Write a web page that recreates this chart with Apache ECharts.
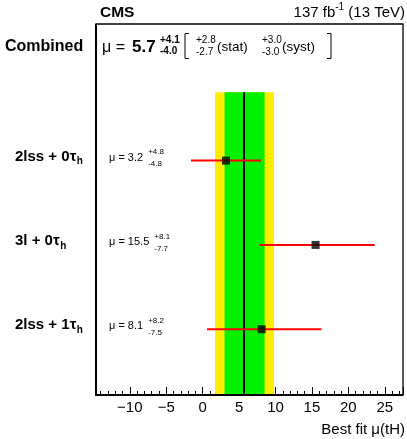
<!DOCTYPE html>
<html><head><meta charset="utf-8">
<script src="https://cdn.jsdelivr.net/npm/echarts@6/dist/echarts.min.js"></script>
<style>html,body{margin:0;padding:0;background:#fff}#c{width:407px;height:439px}</style>
</head><body><div id="c"></div>
<script>
// ---- data ----
const channels = ['2lss + 0τ', '3l + 0τ', '2lss + 1τ'];
const channelSub = ['h', 'h', 'h'];
const muBest = [3.2, 15.5, 8.1];
const errUp = [4.8, 8.1, 8.2];
const errDown = [4.8, 7.7, 7.5];
const combinedMu = 5.7;
const combinedUp = 4.1, combinedDown = 4.0;
const statUp = 2.8, statDown = 2.7;
const systUp = 3.0, systDown = 3.0;
const xTickValues = [-10, -5, 0, 5, 10, 15, 20, 25];

// ---- layout ----
const FONT = '"Liberation Sans", Arial, sans-serif';
const Y_MIN = -0.78, Y_MAX = 3.62, BAND_TOP = 2.81;
const X_MIN = -15, X_MAX = 27.5;
const FRAME = { x: 96, y: 24, w: 307, h: 371 };
const rowY = i => channels.length - 1 - i;

const cv = document.createElement('canvas').getContext('2d');
function tw(t, f) { cv.font = f; return cv.measureText(t).width; }
function fnt(size, bold) { return (bold ? 'bold ' : '') + size + 'px ' + FONT; }
const G = [];
function txt(x, y, text, size, bold, align) {
  G.push({ type: 'text', x: x, y: y, silent: true, z: 100,
    style: { text: text, font: fnt(size, bold), fill: '#000', align: align || 'left', verticalAlign: 'middle' } });
}
const signed = (s, v) => s + v.toFixed(1);

// frame (drawn over the axis area)
G.push({ type: 'rect', silent: true, z: 90, shape: { x: 86, y: 380, width: 9.2, height: 18 }, style: { fill: '#fff' } });
G.push({ type: 'rect', silent: true, z: 95, shape: { x: FRAME.x, y: FRAME.y, width: FRAME.w, height: FRAME.h }, style: { fill: null, stroke: '#000', lineWidth: 1.3 } });
G.push({ type: 'line', silent: true, z: 96, shape: { x1: FRAME.x, y1: FRAME.y, x2: FRAME.x, y2: FRAME.y + FRAME.h }, style: { stroke: '#000', lineWidth: 2 } });
G.push({ type: 'line', silent: true, z: 96, shape: { x1: FRAME.x - 1, y1: FRAME.y + FRAME.h, x2: FRAME.x + FRAME.w, y2: FRAME.y + FRAME.h }, style: { stroke: '#000', lineWidth: 2 } });

// header
txt(100, 12.5, 'CMS', 15.5, true);
(function () {
  const t3 = ' (13 TeV)', t1 = '137 fb';
  const x3 = 405 - tw(t3, fnt(15));
  const x2 = x3 - tw('-1', fnt(10));
  const x1 = x2 - tw(t1, fnt(15));
  txt(x1, 13, t1, 15); txt(x2, 7.5, '-1', 10); txt(x3, 13, t3, 15);
})();

// combined line
txt(5, 47, 'Combined', 16, true);
txt(102, 47.5, 'μ = ', 16, false);
txt(132, 47, combinedMu.toFixed(1), 17, true);
txt(160, 40, signed('+', combinedUp), 10, true);
txt(160, 51.5, signed('-', combinedDown), 10, true);
G.push({ type: 'polyline', silent: true, shape: { points: [[189, 33.5], [185, 33.5], [185, 58.5], [189, 58.5]] }, style: { stroke: '#000', lineWidth: 1, fill: null } });
txt(196, 40, signed('+', statUp), 10);
txt(196, 52, signed('-', statDown), 10);
txt(217, 47, '(stat)', 13.5);
txt(262, 40, signed('+', systUp), 10);
txt(262, 52, signed('-', systDown), 10);
txt(282, 47, '(syst)', 13.5);
G.push({ type: 'polyline', silent: true, shape: { points: [[327, 33.5], [331, 33.5], [331, 58.5], [327, 58.5]] }, style: { stroke: '#000', lineWidth: 1, fill: null } });

// axis title
txt(405, 429.5, 'Best fit μ(tH)', 15, false, 'right');

const chart = echarts.init(document.getElementById('c'), null, { renderer: 'canvas' });

const option = {
  animation: false,
  grid: { left: 93.4, right: 4, top: 24, bottom: 44, show: false, containLabel: false },
  xAxis: {
    type: 'value', min: X_MIN, max: X_MAX, interval: 5,
    axisLine: { show: false, onZero: false },
    axisTick: { show: true, inside: true, length: 8, lineStyle: { color: '#000', width: 1 } },
    minorTick: { show: true, splitNumber: 5, length: 4, lineStyle: { color: '#000', width: 1 } },
    splitLine: { show: false },
    axisLabel: { color: '#000', fontSize: 15, fontFamily: FONT, margin: 5, showMaxLabel: false,
      formatter: v => xTickValues.indexOf(v) >= 0 ? String(v).replace('-', '\u2212') : '' }
  },
  yAxis: {
    type: 'value', min: Y_MIN, max: Y_MAX,
    axisLine: { show: false, onZero: false }, axisTick: { show: false }, axisLabel: { show: false }, splitLine: { show: false }
  },
  graphic: G,
  series: [
    { type: 'scatter', data: [], silent: true,
      markArea: { silent: true, data: [
        [{ xAxis: combinedMu - combinedDown, yAxis: Y_MIN, itemStyle: { color: '#ffee00' } }, { xAxis: combinedMu + combinedUp, yAxis: BAND_TOP }]
      ] } },
    { type: 'scatter', data: [], silent: true,
      markArea: { silent: true, data: [
        [{ xAxis: combinedMu - statDown, yAxis: Y_MIN, itemStyle: { color: '#00f000' } }, { xAxis: combinedMu + statUp, yAxis: BAND_TOP }]
      ] },
      markLine: { silent: true, symbol: 'none', label: { show: false }, lineStyle: { color: '#000', width: 2, type: 'solid' },
        data: [[{ coord: [combinedMu, Y_MIN] }, { coord: [combinedMu, BAND_TOP] }]] } },
    { type: 'custom', silent: true, z: 5,
      data: muBest.map((m, i) => [m - errDown[i], m + errUp[i], rowY(i)]),
      renderItem: (params, api) => {
        const a = api.coord([api.value(0), api.value(2)]);
        const b = api.coord([api.value(1), api.value(2)]);
        return { type: 'line', shape: { x1: a[0], y1: a[1], x2: b[0], y2: b[1] }, style: { stroke: '#ff0000', lineWidth: 2 } };
      } },
    { type: 'scatter', silent: true, z: 6, symbol: 'rect', symbolSize: 8,
      itemStyle: { color: '#000' },
      data: muBest.map((m, i) => [m, rowY(i)]) }
  ]
};
chart.setOption(option);

// channel labels and per-channel annotations, positioned via the y scale
const extra = [];
channels.forEach((c, i) => {
  const py = chart.convertToPixel({ gridIndex: 0 }, [0, rowY(i)])[1];
  const ly = py - 4;
  extra.push({ type: 'text', x: 15, y: ly, silent: true, style: { text: c, font: fnt(15, true), fill: '#000', verticalAlign: 'middle' } });
  extra.push({ type: 'text', x: 15 + tw(c, fnt(15, true)) + 0.5, y: ly + 5, silent: true, style: { text: channelSub[i], font: fnt(10, true), fill: '#000', verticalAlign: 'middle' } });
  const main = 'μ = ' + muBest[i].toFixed(1);
  const ay = py - 3;
  extra.push({ type: 'text', x: 109, y: ay, silent: true, style: { text: main, font: fnt(11), fill: '#000', verticalAlign: 'middle' } });
  const sx = 109 + tw(main, fnt(11)) + 5;
  extra.push({ type: 'text', x: sx, y: ay - 5.5, silent: true, style: { text: signed('+', errUp[i]), font: fnt(8), fill: '#000', verticalAlign: 'middle' } });
  extra.push({ type: 'text', x: sx, y: ay + 6.5, silent: true, style: { text: signed('-', errDown[i]), font: fnt(8), fill: '#000', verticalAlign: 'middle' } });
});
chart.setOption({ graphic: G.concat(extra) });
</script>
</body></html>
